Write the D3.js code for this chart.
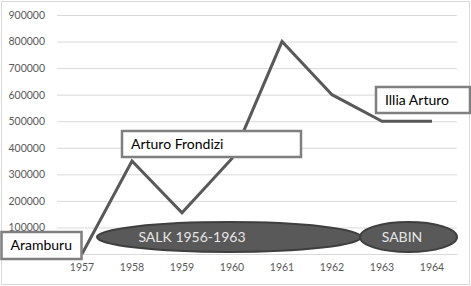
<!DOCTYPE html>
<html>
<head>
<meta charset="utf-8">
<script src="https://cdn.jsdelivr.net/npm/d3@7"></script>
<style>
  body { margin: 0; background: #fff; }
  text { font-family: Lato, "Open Sans", sans-serif; }
</style>
</head>
<body>
<svg width="471" height="286"></svg>
<script>
const years = ['1957', '1958', '1959', '1960', '1961', '1962', '1963', '1964'];
const cases = [0, 350000, 155000, 360000, 800000, 600000, 500000, 500000];
const yTicks = [100000, 200000, 300000, 400000, 500000, 600000, 700000, 800000, 900000];

// presidents shown as callout boxes
const presidents = ['Aramburu', 'Arturo Frondizi', 'Illia Arturo'];
// vaccine periods shown as ellipses (start/end in category units from 1957)
const vaccines = ['SALK 1956-1963', 'SABIN'];
const vaccineStart = [0.3, 5.56];
const vaccineEnd = [5.58, 7.5];
const vaccineLabelAt = [2.2, 6.4];

const svg = d3.select('svg');
const width = +svg.attr('width');
const height = +svg.attr('height');
const margin = {top: 15, right: 14, bottom: 32, left: 57};
const innerWidth = width - margin.left - margin.right;
const innerHeight = height - margin.top - margin.bottom;

// outer frame
svg.append('rect')
    .attr('x', 1.5).attr('y', 1.5)
    .attr('width', width - 3).attr('height', height - 3)
    .attr('fill', '#fff')
    .attr('stroke', '#d9d9d9');

const xScale = d3.scaleBand()
    .domain(years)
    .range([0, 400]);

const yScale = d3.scaleLinear()
    .domain([0, 900000])
    .range([innerHeight, 0]);

const g = svg.append('g')
    .attr('transform', `translate(${margin.left}, ${margin.top})`);

const yAxis = d3.axisLeft(yScale)
    .tickValues(yTicks)
    .tickFormat(d3.format('d'))
    .tickSize(-400)
    .tickPadding(12);

const yAxisG = g.append('g').call(yAxis);
yAxisG.select('.domain').remove();
yAxisG.selectAll('line').attr('stroke', '#d9d9d9');
yAxisG.selectAll('text')
    .attr('fill', '#595959')
    .style('font-size', '10.5px');

const xAxisG = g.append('g')
    .attr('transform', `translate(0, ${innerHeight})`)
    .call(d3.axisBottom(xScale).tickSize(0).tickPadding(10));
xAxisG.select('.domain').attr('stroke', '#d9d9d9');
xAxisG.selectAll('text')
    .attr('fill', '#595959')
    .style('font-size', '10.5px');

const xPos = d => xScale(d) + xScale.bandwidth() / 2;

const line = d3.line()
    .x((d, i) => xPos(years[i]))
    .y(d => yScale(d));

g.append('path')
    .datum(cases)
    .attr('d', line)
    .attr('fill', 'none')
    .attr('stroke', '#595959')
    .attr('stroke-width', 3);

// ellipses
const catX = v => xPos(years[0]) + v * xScale.step();
const ellY = yScale(64000);
vaccines.forEach((name, i) => {
    const x0 = catX(vaccineStart[i]);
    const x1 = catX(vaccineEnd[i]);
    g.append('ellipse')
        .attr('cx', (x0 + x1) / 2)
        .attr('cy', ellY)
        .attr('rx', (x1 - x0) / 2)
        .attr('ry', 15)
        .attr('fill', '#595959')
        .attr('stroke', '#3f3f3f')
        .attr('stroke-width', 2);
    g.append('text')
        .text(name)
        .attr('x', catX(vaccineLabelAt[i]))
        .attr('y', ellY)
        .attr('dy', '0.35em')
        .attr('text-anchor', 'middle')
        .attr('fill', '#e6e6e6')
        .style('font-size', '14px');
});

// callout boxes (absolute in svg space)
const boxes = [
    {x: 1.5, y: 232, w: 80, h: 27},
    {x: 122, y: 131, w: 179, h: 26},
    {x: 376, y: 87, w: 94, h: 26}
];
presidents.forEach((name, i) => {
    const b = boxes[i];
    svg.append('rect')
        .attr('x', b.x).attr('y', b.y)
        .attr('width', b.w).attr('height', b.h)
        .attr('fill', '#fff')
        .attr('stroke', '#7f7f7f')
        .attr('stroke-width', 2.5);
    svg.append('text')
        .text(name)
        .attr('x', b.x + 9)
        .attr('y', b.y + b.h / 2)
        .attr('dy', '0.35em')
        .attr('fill', '#000')
        .style('font-size', '14px');
});
</script>
</body>
</html>
